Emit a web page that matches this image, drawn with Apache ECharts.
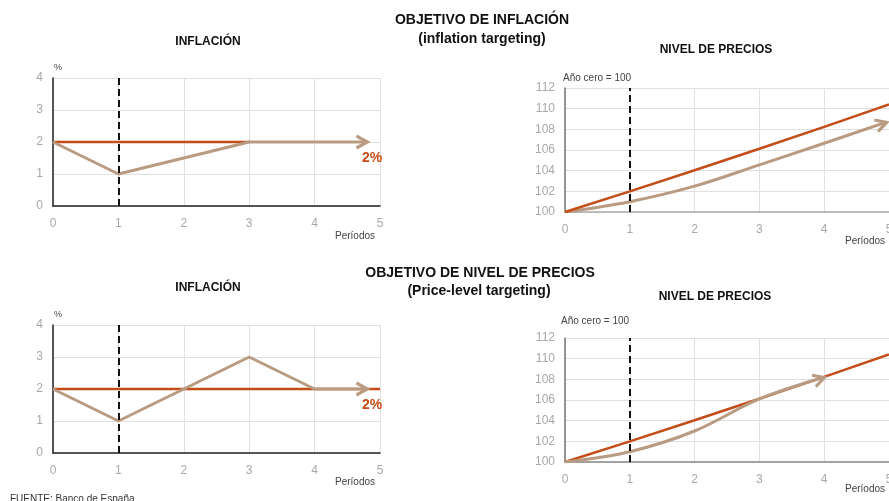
<!DOCTYPE html>
<html>
<head>
<meta charset="utf-8">
<script src="https://cdn.jsdelivr.net/npm/echarts@6/dist/echarts.min.js"></script>
<style>
  html, body { margin: 0; padding: 0; background: #fff; }
  #chart { width: 889px; height: 501px; }
</style>
</head>
<body>
<div id="chart"></div>
<script>
// periods on the x axis
const periodTicks = [0, 1, 2, 3, 4, 5];
const shockPeriod = 1;

// inflation targeting - inflation
const itTargetX = [0, 1, 2, 3];
const itTargetY = [2, 2, 2, 2];
const itInflX = [0, 1, 3, 4.8];
const itInflY = [2, 1, 2, 2];

// inflation targeting - price level
const itPriceTargetX = [0, 1, 2, 3, 4, 5];
const itPriceTargetY = [100, 102, 104.04, 106.12, 108.24, 110.41];
const itPriceX = [0, 1, 2, 3, 4, 4.96];
const itPriceY = [100, 101, 102.5, 104.56, 106.65, 108.7];

// price-level targeting - inflation
const pltTargetX = [0, 5];
const pltTargetY = [2, 2];
const pltInflX = [0, 1, 2, 3, 4, 4.8];
const pltInflY = [2, 1, 2, 3, 2, 2];

// price-level targeting - price level
const pltPriceTargetX = [0, 1, 2, 3, 4, 5];
const pltPriceTargetY = [100, 102, 104.04, 106.12, 108.24, 110.41];
const pltPriceX = [0, 1, 2, 3, 4];
const pltPriceY = [100, 101, 103, 106.1, 108.2];

const ORANGE = '#c44d17';
const TAN = '#b89b80';
const FONT = '"Liberation Sans", Arial, sans-serif';

const pairs = (xs, ys) => xs.map((x, i) => [x, ys[i]]);

// open chevron used as arrow head on the last point
const chevron = 'path://M0,0 L10,5 L0,10';
function withArrow(xs, ys, rotate, offset) {
    const d = pairs(xs, ys);
    const last = d.length - 1;
    return d.map((p, i) => i === last ? {
        value: p,
        symbol: chevron,
        symbolSize: [11, 12],
        symbolRotate: rotate,
        symbolOffset: offset,
        itemStyle: { color: 'none', borderColor: TAN, borderWidth: 3 }
    } : { value: p, symbol: 'none' });
}

function xAxisCfg(idx, lineColor) {
    return {
        gridIndex: idx, type: 'value', min: 0, max: 5, interval: 1,
        axisLine: { show: true, onZero: false, lineStyle: { color: lineColor, width: 1.5 } },
        axisTick: { show: false },
        axisLabel: { color: '#a8a8a8', fontSize: 12, fontFamily: FONT, margin: 12 },
        splitLine: { show: true, lineStyle: { color: '#e0e0e0', width: 1 } }
    };
}
function yAxisCfg(idx, min, max, step, lineColor) {
    return {
        gridIndex: idx, type: 'value', min: min, max: max, interval: step,
        axisLine: { show: true, lineStyle: { color: lineColor, width: 1.5 } },
        axisTick: { show: false },
        axisLabel: { color: '#a8a8a8', fontSize: 12, fontFamily: FONT, margin: 10 },
        splitLine: { show: true, lineStyle: { color: '#e0e0e0', width: 1 } }
    };
}

function shockLine() {
    return {
        silent: true, symbol: 'none', label: { show: false },
        lineStyle: { color: '#111', type: [7, 4], width: 2 },
        data: [{ xAxis: shockPeriod }]
    };
}

// title boxes carry 5px padding, so shift left/top to centre the text
function heading(text, cx, top, size) {
    return { text: text, left: cx - 5, top: top, textAlign: 'center',
        textStyle: { fontSize: size, fontWeight: 'bold', color: '#111', fontFamily: FONT } };
}

function note(text, x, y, size) {
    return { type: 'text', left: x, top: y,
        style: { text: text, fontSize: size, fill: '#444', fontFamily: FONT } };
}

const chart = echarts.init(document.getElementById('chart'));

const option = {
    animation: false,
    textStyle: { fontFamily: FONT },
    grid: [
        { left: 53, top: 78, width: 327, height: 128, outerBoundsMode: 'none' },
        { left: 565, top: 88, width: 324, height: 124, outerBoundsMode: 'none' },
        { left: 53, top: 325, width: 327, height: 128, outerBoundsMode: 'none' },
        { left: 565, top: 338, width: 324, height: 124, outerBoundsMode: 'none' }
    ],
    xAxis: [
        xAxisCfg(0, '#222'),
        xAxisCfg(1, '#aaa'),
        xAxisCfg(2, '#222'),
        xAxisCfg(3, '#888')
    ],
    yAxis: [
        yAxisCfg(0, 0, 4, 1, '#222'),
        yAxisCfg(1, 100, 112, 2, '#777'),
        yAxisCfg(2, 0, 4, 1, '#222'),
        yAxisCfg(3, 100, 112, 2, '#777')
    ],
    title: [
        heading('OBJETIVO DE INFLACIÓN', 482, 8, 14),
        heading('(inflation targeting)', 482, 27, 14),
        heading('INFLACIÓN', 208, 31, 12),
        heading('NIVEL DE PRECIOS', 716, 39, 12),
        heading('OBJETIVO DE NIVEL DE PRECIOS', 480, 261, 14),
        heading('(Price-level targeting)', 479, 279, 14),
        heading('INFLACIÓN', 208, 277, 12),
        heading('NIVEL DE PRECIOS', 715, 286, 12)
    ],
    graphic: [
        note('%', 54, 63, 9),
        note('Períodos', 335, 231, 10),
        note('Año cero = 100', 563, 73, 10),
        note('Períodos', 845, 236, 10),
        note('%', 54, 310, 9),
        note('Períodos', 335, 477, 10),
        note('Año cero = 100', 561, 316, 10),
        note('Períodos', 845, 484, 10),
        { type: 'text', left: 10, top: 494,
          style: { text: 'FUENTE: Banco de España', fontSize: 10, fill: '#333', fontFamily: FONT } }
    ],
    series: [
        // inflation targeting - inflation
        { type: 'line', xAxisIndex: 0, yAxisIndex: 0, data: pairs(itTargetX, itTargetY),
          symbol: 'none', lineStyle: { color: ORANGE, width: 2.5 }, z: 3,
          markLine: shockLine(),
          markPoint: { symbol: 'circle', symbolSize: 0,
            label: { show: true, formatter: '2%', color: ORANGE, fontWeight: 'bold', fontSize: 14, fontFamily: FONT },
            data: [{ coord: [4.88, 1.5] }] } },
        { type: 'line', xAxisIndex: 0, yAxisIndex: 0, data: withArrow(itInflX, itInflY, 0, [-5, 0]),
          lineStyle: { color: TAN, width: 3 }, itemStyle: { color: TAN }, z: 4 },
        // inflation targeting - price level
        { type: 'line', xAxisIndex: 1, yAxisIndex: 1, data: pairs(itPriceTargetX, itPriceTargetY),
          symbol: 'none', lineStyle: { color: ORANGE, width: 2.5 }, z: 4,
          markLine: shockLine() },
        { type: 'line', xAxisIndex: 1, yAxisIndex: 1, data: withArrow(itPriceX, itPriceY, 18, [-5, 2]),
          smooth: 0.35, lineStyle: { color: TAN, width: 3 }, itemStyle: { color: TAN }, z: 3 },
        // price-level targeting - inflation
        { type: 'line', xAxisIndex: 2, yAxisIndex: 2, data: pairs(pltTargetX, pltTargetY),
          symbol: 'none', lineStyle: { color: ORANGE, width: 2.5 }, z: 3,
          markLine: shockLine(),
          markPoint: { symbol: 'circle', symbolSize: 0,
            label: { show: true, formatter: '2%', color: ORANGE, fontWeight: 'bold', fontSize: 14, fontFamily: FONT },
            data: [{ coord: [4.88, 1.5] }] } },
        { type: 'line', xAxisIndex: 2, yAxisIndex: 2, data: withArrow(pltInflX, pltInflY, 0, [-5, 0]),
          lineStyle: { color: TAN, width: 3 }, itemStyle: { color: TAN }, z: 4 },
        // price-level targeting - price level
        { type: 'line', xAxisIndex: 3, yAxisIndex: 3, data: pairs(pltPriceTargetX, pltPriceTargetY),
          symbol: 'none', lineStyle: { color: ORANGE, width: 2.5 }, z: 3,
          markLine: shockLine() },
        { type: 'line', xAxisIndex: 3, yAxisIndex: 3, data: withArrow(pltPriceX, pltPriceY, 18, [-5, 2]),
          smooth: 0.35, lineStyle: { color: TAN, width: 3 }, itemStyle: { color: TAN }, z: 4 }
    ]
};

chart.setOption(option);
</script>
</body>
</html>
